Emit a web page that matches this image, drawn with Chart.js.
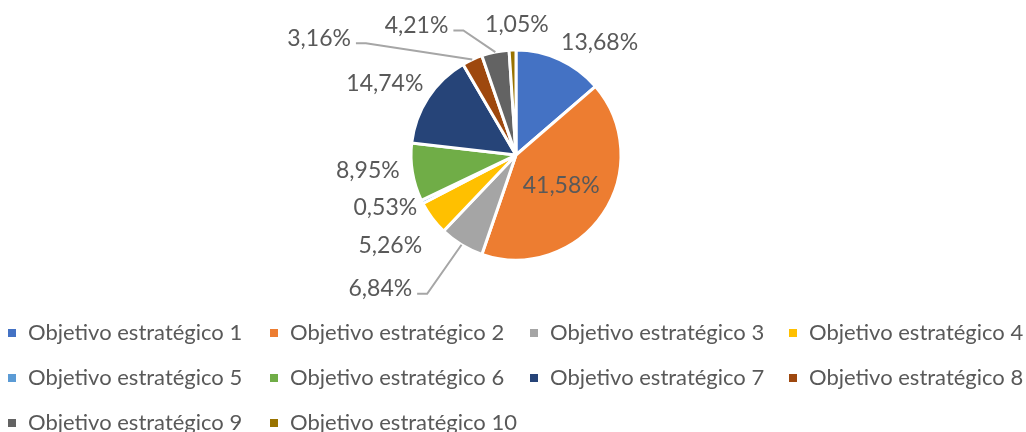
<!DOCTYPE html>
<html>
<head>
<meta charset="utf-8">
<script src="https://cdn.jsdelivr.net/npm/chart.js"></script>
<style>
    html, body { margin: 0; padding: 0; background: #fff; }
</style>
</head>
<body>
<canvas id="objChart" width="1026" height="432"></canvas>
<script>
// カテゴリと値 (%)
const categories = [
    'Objetivo estratégico 1',
    'Objetivo estratégico 2',
    'Objetivo estratégico 3',
    'Objetivo estratégico 4',
    'Objetivo estratégico 5',
    'Objetivo estratégico 6',
    'Objetivo estratégico 7',
    'Objetivo estratégico 8',
    'Objetivo estratégico 9',
    'Objetivo estratégico 10'
];
const percentages = [13.68, 41.58, 6.84, 5.26, 0.53, 8.95, 14.74, 3.16, 4.21, 1.05];
const percentLabels = ['13,68%', '41,58%', '6,84%', '5,26%', '0,53%', '8,95%', '14,74%', '3,16%', '4,21%', '1,05%'];

const sliceColors = [
    '#4472C4', '#ED7D31', '#A5A5A5', '#FFC000', '#5B9BD5',
    '#70AD47', '#264478', '#9E480E', '#636363', '#997300'
];

// ラベルの微調整 (dx, dy) と引き出し線
const labelNudge = [
    [-7, 1], [0, 0], [-39, 27], [6, 15], [13, -3],
    [7, -5], [12, -3], [-113, -3], [-43, -7], [5, -5]
];
const insideLabel = [false, true, false, false, false, false, false, false, false, false];
const leaderLine = [false, false, true, false, false, false, false, true, true, false];

const textColor = '#595959';
const labelFont = '23px Lato';

// データラベル描画
const pieLabels = {
    id: 'pieLabels',
    afterDatasetsDraw(chart) {
        const ctx = chart.ctx;
        const meta = chart.getDatasetMeta(0);
        ctx.save();
        ctx.font = labelFont;
        ctx.fillStyle = textColor;
        ctx.textBaseline = 'middle';
        meta.data.forEach((arc, i) => {
            const p = arc.getProps(['x', 'y', 'startAngle', 'endAngle', 'outerRadius'], true);
            const mid = (p.startAngle + p.endAngle) / 2;
            const cos = Math.cos(mid), sin = Math.sin(mid);
            let lx, ly, align;
            if (insideLabel[i]) {
                lx = p.x + cos * p.outerRadius * 0.52;
                ly = p.y + sin * p.outerRadius * 0.52;
                align = 'center';
            } else {
                const r = p.outerRadius + 20;
                lx = p.x + cos * r;
                ly = p.y + sin * r;
                align = Math.abs(cos) < 0.1 ? 'center' : (cos > 0 ? 'left' : 'right');
            }
            lx += labelNudge[i][0];
            ly += labelNudge[i][1];
            ctx.textAlign = align;
            ctx.fillText(percentLabels[i], lx, ly);

            if (leaderLine[i]) {
                const ex = p.x + cos * p.outerRadius;
                const ey = p.y + sin * p.outerRadius;
                const ly2 = ly + 5;
                ctx.strokeStyle = '#A6A6A6';
                ctx.lineWidth = 2;
                ctx.beginPath();
                ctx.moveTo(ex, ey);
                ctx.lineTo(lx + 15, ly2);
                ctx.lineTo(lx + 5, ly2);
                ctx.stroke();
            }
        });
        ctx.restore();
    }
};

// 凡例 (4列 x 3行)
const legendCols = [28, 290, 550, 809];
const legendRows = [333, 378, 423];
const boxLegend = {
    id: 'boxLegend',
    afterDraw(chart) {
        const ctx = chart.ctx;
        ctx.save();
        ctx.font = '22px Lato';
        ctx.textBaseline = 'middle';
        ctx.textAlign = 'left';
        categories.forEach((name, i) => {
            const x = legendCols[i % 4];
            const y = legendRows[Math.floor(i / 4)];
            ctx.fillStyle = sliceColors[i];
            ctx.fillRect(x - 20, y - 4, 8, 8);
            ctx.fillStyle = textColor;
            ctx.fillText(name, x, y);
        });
        ctx.restore();
    }
};

const ctx = document.getElementById('objChart').getContext('2d');
const objChart = new Chart(ctx, {
    type: 'pie',
    data: {
        labels: categories,
        datasets: [{
            data: percentages,
            backgroundColor: sliceColors,
            borderColor: '#ffffff',
            borderWidth: 3,
            radius: 105
        }]
    },
    options: {
        responsive: false,
        animation: false,
        events: [],
        layout: { padding: { left: 6, right: 0, top: 50, bottom: 172 } },
        plugins: {
            legend: { display: false },
            tooltip: { enabled: false }
        }
    },
    plugins: [pieLabels, boxLegend]
});
</script>
</body>
</html>
